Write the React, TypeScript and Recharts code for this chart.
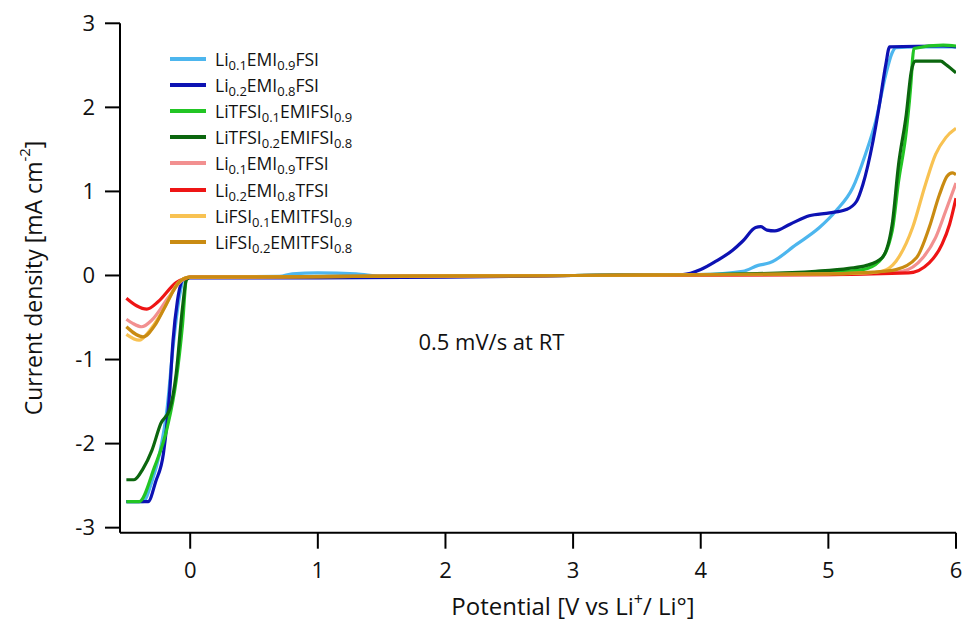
import React from "react";
import { LineChart, Line, XAxis, YAxis, Legend, ReferenceDot } from "recharts";

type P = { x: number; y: number };
const pts = (a: number[][]): P[] => a.map(([x, y]) => ({ x, y }));

const xTicks = [0, 1, 2, 3, 4, 5, 6];
const yTicks = [-3, -2, -1, 0, 1, 2, 3];
const annotation = "0.5 mV/s at RT";

const li01FSI = pts([
  [-0.5, -2.69], [-0.37, -2.69], [-0.3, -2.45], [-0.24, -2.12], [-0.18, -1.57], [-0.135, -0.86],
  [-0.085, -0.26], [-0.05, -0.04], [0, -0.02], [0.7, -0.01], [0.8, 0.02], [1.0, 0.03], [1.3, 0.02],
  [1.5, -0.01], [3, 0], [4.0, 0.01], [4.33, 0.05], [4.45, 0.12], [4.54, 0.15], [4.75, 0.37],
  [4.93, 0.57], [5.06, 0.77], [5.19, 1.04], [5.29, 1.44], [5.37, 1.83], [5.45, 2.39], [5.5, 2.65],
  [5.53, 2.71], [5.7, 2.72], [6.0, 2.72],
]);
const li02FSI = pts([
  [-0.5, -2.69], [-0.33, -2.69], [-0.27, -2.45], [-0.21, -2.12], [-0.16, -1.37], [-0.135, -0.78],
  [-0.1, -0.3], [-0.05, -0.04], [0, -0.03], [0.8, -0.03], [2.0, -0.02], [3.0, 0], [3.86, 0.01],
  [4.0, 0.07], [4.12, 0.17], [4.25, 0.3], [4.33, 0.41], [4.43, 0.57], [4.47, 0.58], [4.52, 0.54],
  [4.58, 0.53], [4.7, 0.61], [4.85, 0.71], [5.01, 0.745], [5.14, 0.785], [5.22, 0.88], [5.27, 1.08],
  [5.35, 1.6], [5.4, 2.03], [5.45, 2.51], [5.48, 2.72], [5.9, 2.73], [6.0, 2.72],
]);
const liTFSI01 = pts([
  [-0.5, -2.69], [-0.4, -2.69], [-0.28, -2.28], [-0.18, -1.81], [-0.11, -1.25], [-0.06, -0.58],
  [-0.03, -0.05], [0, -0.02], [3, 0], [4.0, 0.01], [4.5, 0.02], [5.0, 0.04], [5.27, 0.07],
  [5.4, 0.17], [5.5, 0.53], [5.55, 1.12], [5.61, 1.71], [5.65, 2.35], [5.66, 2.58], [5.67, 2.7],
  [5.9, 2.74], [6.0, 2.73],
]);
const liTFSI02 = pts([
  [-0.5, -2.43], [-0.44, -2.43], [-0.37, -2.3], [-0.3, -2.08], [-0.23, -1.76], [-0.16, -1.59],
  [-0.11, -1.17], [-0.06, -0.38], [-0.03, -0.05], [0, -0.02], [3, 0], [4.38, 0.02], [4.9, 0.05],
  [5.16, 0.085], [5.3, 0.12], [5.42, 0.21], [5.5, 0.61], [5.55, 1.32], [5.61, 1.91], [5.65, 2.43],
  [5.68, 2.55], [5.88, 2.55], [5.92, 2.51], [6.0, 2.41],
]);
const li01TFSI = pts([
  [-0.5, -0.52], [-0.45, -0.57], [-0.38, -0.61], [-0.3, -0.53], [-0.17, -0.26], [-0.07, -0.065],
  [0, -0.02], [3, 0], [5.0, 0.01], [5.4, 0.03], [5.58, 0.05], [5.74, 0.21], [5.84, 0.45],
  [5.92, 0.77], [6.0, 1.1],
]);
const li02TFSI = pts([
  [-0.5, -0.27], [-0.42, -0.36], [-0.34, -0.4], [-0.25, -0.31], [-0.11, -0.085], [-0.03, -0.03],
  [0, -0.02], [3, 0], [5.0, 0.01], [5.63, 0.03], [5.79, 0.15], [5.89, 0.37], [5.95, 0.61], [6.0, 0.92],
]);
const liFSI01 = pts([
  [-0.5, -0.7], [-0.4, -0.77], [-0.32, -0.66], [-0.23, -0.46], [-0.1, -0.1], [-0.04, -0.03],
  [0, -0.02], [3, 0], [5.0, 0.02], [5.3, 0.03], [5.42, 0.05], [5.53, 0.17], [5.66, 0.57],
  [5.76, 1.08], [5.84, 1.44], [5.92, 1.64], [6.0, 1.75],
]);
const liFSI02 = pts([
  [-0.5, -0.61], [-0.37, -0.73], [-0.28, -0.6], [-0.2, -0.38], [-0.09, -0.085], [-0.04, -0.03],
  [0, -0.02], [3, 0], [5.0, 0.02], [5.35, 0.04], [5.53, 0.07], [5.69, 0.21], [5.79, 0.57],
  [5.87, 0.96], [5.93, 1.18], [5.97, 1.22], [6.0, 1.2],
]);

const seriesNames = [
  "Li_{0.1}EMI_{0.9}FSI",
  "Li_{0.2}EMI_{0.8}FSI",
  "LiTFSI_{0.1}EMIFSI_{0.9}",
  "LiTFSI_{0.2}EMIFSI_{0.8}",
  "Li_{0.1}EMI_{0.9}TFSI",
  "Li_{0.2}EMI_{0.8}TFSI",
  "LiFSI_{0.1}EMITFSI_{0.9}",
  "LiFSI_{0.2}EMITFSI_{0.8}",
];
const seriesColors = ["#4db6ee", "#0d12b3", "#22c524", "#0b660e", "#f29090", "#ee1515", "#f8c252", "#c98b12"];
const seriesData = [li01FSI, li02FSI, liTFSI01, liTFSI02, li01TFSI, li02TFSI, liFSI01, liFSI02];

const FONT = "'Open Sans', 'DejaVu Sans', sans-serif";

function SubText({ s }: { s: string }) {
  const parts = s.split(/(_\{[^}]*\})/).filter(Boolean);
  return (
    <span>
      {parts.map((p, i) =>
        p.startsWith("_{") ? (
          <sub key={i} style={{ fontSize: 13, verticalAlign: "-4px", lineHeight: 0 }}>{p.slice(2, -1)}</sub>
        ) : (
          <span key={i}>{p}</span>
        )
      )}
    </span>
  );
}

function LegendBox() {
  return (
    <div style={{ fontFamily: FONT, fontSize: 17.5, color: "#111" }}>
      {seriesNames.map((n, i) => (
        <div key={n} style={{ display: "flex", alignItems: "center", height: 26.1 }}>
          <div style={{ width: 36, height: 4, background: seriesColors[i], marginRight: 9 }} />
          <SubText s={n} />
        </div>
      ))}
    </div>
  );
}

const YLabel = (props: any) => {
  const vb = props.viewBox || {};
  const cx = 33;
  const cy = vb.y + vb.height / 2;
  return (
    <text x={cx} y={cy} transform={`rotate(-90 ${cx} ${cy})`} textAnchor="middle" dominantBaseline="central"
      fontFamily={FONT} fontSize={23} fill="#111">
      Current density [mA cm<tspan dy={-9} fontSize={15}>-2</tspan><tspan dy={9}>]</tspan>
    </text>
  );
};

const XLabel = (props: any) => {
  const vb = props.viewBox || {};
  const cx = vb.x + vb.width / 2 + 35;
  const cy = 615;
  return (
    <text x={cx} y={cy} textAnchor="middle" fontFamily={FONT} fontSize={24} fill="#111">
      Potential [V vs Li<tspan dy={-10} fontSize={16}>+</tspan><tspan dy={10}>/ Li°]</tspan>
    </text>
  );
};

export default function App() {
  return (
    <div style={{ position: "absolute", left: 0, top: 0, width: 964, height: 630, background: "#fff" }}>
      <LineChart width={964} height={630} margin={{ top: 23.3, right: 8, bottom: 37.3, left: 60 }}>
        <XAxis
          type="number"
          dataKey="x"
          domain={[-0.55, 6]}
          ticks={xTicks}
          allowDataOverflow
          height={60}
          tickSize={16}
          tickMargin={14}
          axisLine={{ stroke: "#000", strokeWidth: 2 }}
          tickLine={{ stroke: "#000", strokeWidth: 2 }}
          tick={{ fill: "#111", fontSize: 22, fontFamily: FONT }}
          label={{ content: XLabel }}
        />
        <YAxis
          type="number"
          dataKey="y"
          domain={[-3.06, 3]}
          ticks={yTicks}
          allowDataOverflow
          width={60}
          tickSize={15}
          tickMargin={10}
          axisLine={{ stroke: "#000", strokeWidth: 2 }}
          tickLine={{ stroke: "#000", strokeWidth: 2 }}
          tick={{ fill: "#111", fontSize: 22, fontFamily: FONT }}
          label={{ content: YLabel }}
        />
        {seriesData.map((d, i) => (
          <Line
            key={seriesNames[i]}
            data={d}
            dataKey="y"
            type="monotoneX"
            stroke={seriesColors[i]}
            strokeWidth={3.2}
            dot={false}
            activeDot={false}
            isAnimationActive={false}
            name={seriesNames[i]}
          />
        ))}
        <ReferenceDot
          x={2.36}
          y={-0.79}
          r={0}
          fill="none"
          stroke="none"
          label={{ value: annotation, position: "center", fontSize: 22, fontFamily: FONT, fill: "#111" }}
        />
        <Legend
          layout="vertical"
          align="center"
          verticalAlign="middle"
          content={() => <LegendBox />}
          wrapperStyle={{ left: 170, top: 46, width: "auto" }}
        />
      </LineChart>
    </div>
  );
}
